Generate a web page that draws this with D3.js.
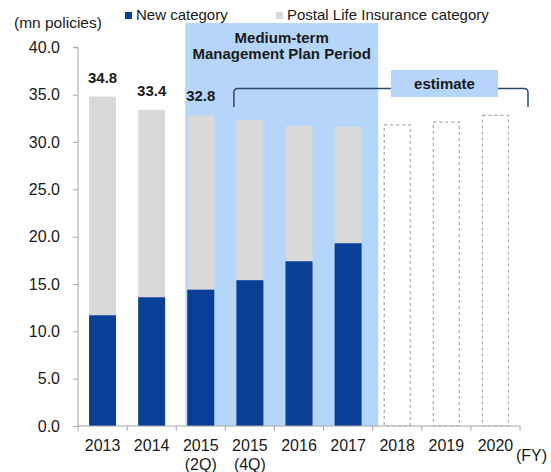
<!DOCTYPE html>
<html>
<head>
<meta charset="utf-8">
<script src="https://cdn.jsdelivr.net/npm/d3@7"></script>
<style>
  html, body { margin: 0; padding: 0; background: #fff; }
  svg { display: block; font-family: "Liberation Sans", Arial, sans-serif; }
</style>
</head>
<body>
<svg id="chart" width="551" height="472"></svg>
<script>
// Policies in force (mn policies), by fiscal year
const categories = ["2013", "2014", "2015 (2Q)", "2015 (4Q)", "2016", "2017", "2018", "2019", "2020"];
const categoryLines = [["2013"], ["2014"], ["2015", "(2Q)"], ["2015", "(4Q)"], ["2016"], ["2017"], ["2018"], ["2019"], ["2020"]];
const actualYears = ["2013", "2014", "2015 (2Q)", "2015 (4Q)", "2016", "2017"];
const newCategory = [11.7, 13.6, 14.4, 15.4, 17.4, 19.3];
const postalCategory = [23.1, 19.8, 18.4, 16.9, 14.3, 12.3];
const labelledYears = ["2013", "2014", "2015 (2Q)"];
const estimateYears = ["2018", "2019", "2020"];
const estimateTotals = [31.8, 32.1, 32.8];
const yTicks = [0, 5, 10, 15, 20, 25, 30, 35, 40];
const planYears = ["2015 (2Q)", "2017"];
const legendItems = ["New category", "Postal Life Insurance category"];

const C_NEW = "#0a3f96";
const C_POSTAL = "#d9d9d9";
const C_PLAN = "#b5d5fa";
const C_AXIS = "#a6a6a6";
const C_TEXT = "#1a1a1a";
const C_BRACKET = "#2b4a72";

const svg = d3.select("#chart");

const x = d3.scaleBand().domain(categories).range([78, 520]).paddingInner(0.45).paddingOuter(0.225);
const y = d3.scaleLinear().domain([0, 40]).range([426, 47.3]);

// Medium-term plan period backdrop
const planLeft = x(planYears[0]) - 2;
const planRight = x(planYears[1]) + x.bandwidth() + 16.5;
svg.append("rect")
  .attr("x", planLeft).attr("y", 23)
  .attr("width", planRight - planLeft).attr("height", y(0) - 23)
  .attr("fill", C_PLAN);

svg.append("text")
  .attr("x", (planLeft + planRight) / 2).attr("y", 43)
  .attr("text-anchor", "middle").attr("font-size", 15).attr("font-weight", "bold").attr("fill", C_TEXT)
  .selectAll("tspan").data(["Medium-term", "Management Plan Period"]).join("tspan")
  .attr("x", (planLeft + planRight) / 2).attr("dy", (d, i) => i ? 16 : 0).text(d => d);

// Stacked actual bars
const rows = actualYears.map((k, i) => ({ key: k, n: newCategory[i], p: postalCategory[i] }));
svg.append("g").selectAll("rect").data(rows).join("rect")
  .attr("x", d => x(d.key)).attr("width", x.bandwidth())
  .attr("y", d => y(d.n + d.p)).attr("height", d => y(d.n) - y(d.n + d.p))
  .attr("fill", C_POSTAL);
svg.append("g").selectAll("rect").data(rows).join("rect")
  .attr("x", d => x(d.key)).attr("width", x.bandwidth())
  .attr("y", d => y(d.n)).attr("height", d => y(0) - y(d.n))
  .attr("fill", C_NEW);

// Total labels
svg.append("g").selectAll("text").data(rows.filter(d => labelledYears.includes(d.key))).join("text")
  .attr("x", d => x(d.key) + x.bandwidth() / 2).attr("y", d => y(d.n + d.p) - 14)
  .attr("text-anchor", "middle").attr("font-size", 15).attr("font-weight", "bold").attr("fill", C_TEXT)
  .text(d => d3.format(".1f")(d.n + d.p));

// Estimate bars (outlined)
svg.append("g").selectAll("rect").data(estimateYears.map((k, i) => ({ key: k, v: estimateTotals[i] }))).join("rect")
  .attr("x", d => x(d.key) + 0.5).attr("width", x.bandwidth() - 1)
  .attr("y", d => y(d.v)).attr("height", d => y(0) - y(d.v))
  .attr("fill", "none").attr("stroke", "#9ea9bd").attr("stroke-width", 1.2).attr("stroke-dasharray", "3,3");

// Estimate bracket
const bL = x("2015 (4Q)") - 2.5, bR = 528, bTop = 88.5, bBot = 107, r = 4;
svg.append("path")
  .attr("d", `M${bL},${bBot} V${bTop + r} Q${bL},${bTop} ${bL + r},${bTop} H${bR - r} Q${bR},${bTop} ${bR},${bTop + r} V${bBot}`)
  .attr("fill", "none").attr("stroke", C_BRACKET).attr("stroke-width", 1.5);
svg.append("rect").attr("x", 391).attr("y", 70).attr("width", 107).attr("height", 27).attr("fill", C_PLAN);
svg.append("text").attr("x", 444.5).attr("y", 88.5).attr("text-anchor", "middle")
  .attr("font-size", 15).attr("font-weight", "bold").attr("fill", C_TEXT).text("estimate");

// Y axis
const yAxis = svg.append("g").attr("transform", "translate(78,0)")
  .call(d3.axisLeft(y).tickValues(yTicks).tickFormat(d3.format(".1f")).tickSize(5).tickPadding(13));
yAxis.select(".domain").attr("stroke", C_AXIS).attr("d", `M-5,${y(40)}H0V${y(0)}`);
yAxis.selectAll(".tick line").attr("stroke", C_AXIS);
yAxis.selectAll(".tick text").attr("font-size", 16).attr("fill", C_TEXT).attr("font-family", "Liberation Sans, Arial, sans-serif");

// X axis with boundary ticks
const xg = svg.append("g");
xg.append("line").attr("x1", 78).attr("x2", 520).attr("y1", y(0)).attr("y2", y(0)).attr("stroke", C_AXIS);
const bounds = categories.map(c => x(c) - x.step() * 0.225).concat([520]);
xg.selectAll("line.t").data(bounds).join("line").attr("class", "t")
  .attr("x1", d => d).attr("x2", d => d).attr("y1", y(0)).attr("y2", y(0) + 5).attr("stroke", C_AXIS);
xg.selectAll("text").data(categories).join("text")
  .attr("text-anchor", "middle").attr("font-size", 16).attr("fill", C_TEXT)
  .each(function (c, i) {
    d3.select(this).selectAll("tspan").data(categoryLines[i]).join("tspan")
      .attr("x", x(c) + x.bandwidth() / 2).attr("y", (d, j) => 451 + j * 18.5).text(d => d);
  });
svg.append("text").attr("x", 516).attr("y", 461).attr("font-size", 16).attr("fill", C_TEXT).text("(FY)");

// Unit label
svg.append("text").attr("x", 14).attr("y", 28).attr("font-size", 15.5).attr("fill", C_TEXT).text("(mn policies)");

// Legend
const legendX = [125, 276];
const legendColors = [C_NEW, C_POSTAL];
const lg = svg.append("g").selectAll("g").data(legendItems).join("g")
  .attr("transform", (d, i) => `translate(${legendX[i]},0)`);
lg.append("rect").attr("x", 0).attr("y", 12).attr("width", 7).attr("height", 7).attr("fill", (d, i) => legendColors[i]);
lg.append("text").attr("x", 11).attr("y", 19.5).attr("font-size", 15).attr("fill", C_TEXT).text(d => d);
</script>
</body>
</html>
